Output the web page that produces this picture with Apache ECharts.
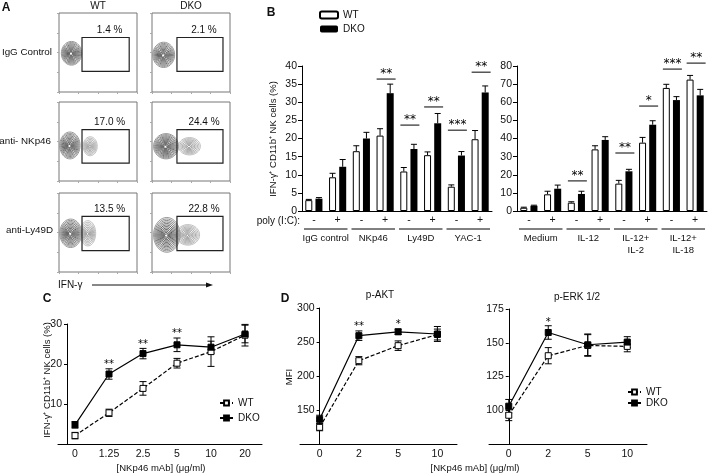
<!DOCTYPE html>
<html><head><meta charset="utf-8">
<script src="https://cdn.jsdelivr.net/npm/echarts@6/dist/echarts.min.js"></script>
<style>html,body{margin:0;padding:0;background:#fff}#c{width:709px;height:476px}</style>
</head><body><div id="c"></div>
<script>
// ---------- Panel A (flow plots) ----------
const flowCols = ['WT', 'DKO'];
const flowRows = ['IgG Control', 'anti- NKp46', 'anti-Ly49D'];
const gatePct = [['1.4 %', '2.1 %'], ['17.0 %', '24.4 %'], ['13.5 %', '22.8 %']];
// gate [x1, y1, x2, y2] in plot units (0-100)
const gates = [
  [[29.5, 26, 90, 69], [32, 26, 91, 69]],
  [[29.5, 22.5, 90, 65], [32, 22.5, 91, 65]],
  [[29.5, 27, 90, 70.5], [32, 27, 91, 70.5]]
];
// populations [cx, cy, rx, ry, rings, dark]
const pops = [
  [[[16, 49, 13, 15, 11, 1]], [[15, 47, 14, 16, 11, 1]]],
  [[[14, 45, 13, 17, 11, 1], [40, 44, 9, 12, 7, 0]], [[18, 44, 16, 16, 12, 1], [48, 44, 14, 11, 8, 0]]],
  [[[15, 49, 14, 18, 11, 1], [37, 49, 10, 16, 8, 0]], [[19, 47, 17, 22, 12, 1], [46, 47, 15, 13, 9, 0]]]
];

// ---------- Panel B ----------
const polyIC = ['-', '+', '-', '+', '-', '+', '-', '+'];
const groupsL = ['IgG control', 'NKp46', 'Ly49D', 'YAC-1'];
const groupsR = ['Medium', 'IL-12', 'IL-12+\nIL-2', 'IL-12+\nIL-18'];
const wtL = [3.0, 9.3, 16.5, 20.8, 10.9, 15.4, 6.7, 19.8];
const wtLErr = [0.2, 1.1, 1.5, 1.9, 1.1, 0.9, 0.5, 2.4];
const dkoL = [3.4, 12.2, 20.0, 32.5, 17.1, 24.2, 15.3, 32.7];
const dkoLErr = [0.3, 2.0, 1.7, 2.5, 1.3, 2.7, 1.1, 1.8];
const wtR = [1.8, 9.2, 4.6, 34.0, 15.1, 37.7, 67.9, 72.5];
const wtRErr = [0.3, 1.7, 0.5, 2.0, 1.8, 2.9, 2.0, 2.3];
const dkoR = [2.9, 12.3, 9.4, 39.2, 21.9, 47.6, 61.2, 63.8];
const dkoRErr = [0.3, 2.0, 1.5, 1.8, 1.1, 2.2, 1.9, 3.3];
const sigLPos = [[3, 36.4], [4, 23.7], [5, 28.7], [6, 22.3], [7, 38.3]];
const sigLTxt = ['**', '**', '**', '***', '**'];
const sigRPos = [[2, 16.6], [4, 32], [5, 57.9], [6, 78.3], [7, 81.6]];
const sigRTxt = ['**', '**', '*', '***', '**'];

// ---------- Panel C ----------
const doseC = ['0', '1.25', '2.5', '5', '10', '20'];
const wtC = [2.1, 7.8, 13.9, 20.2, 23.1, 27.2];
const wtCErr = [0.8, 0.9, 1.7, 1.2, 3.7, 2.7];
const dkoC = [4.8, 17.5, 22.6, 24.8, 24.2, 27.5];
const dkoCErr = [0.8, 1.3, 1.3, 1.7, 1.5, 2.2];
const sigCPos = [[1, 20.5], [2, 25.5], [3, 28.2]];
const sigCTxt = ['**', '**', '**'];

// ---------- Panel D ----------
const doseD = ['0', '2', '5', '10'];
const wtAKT = [124.5, 222.5, 244.6, 261];
const wtAKTErr = [5, 6, 7, 8];
const dkoAKT = [136.3, 259.3, 265, 261.8];
const dkoAKTErr = [6, 7, 4, 11];
const sigAKTPos = [[1, 276.5], [2, 280]];
const sigAKTTxt = ['**', '*'];
const wtERK = [96.3, 140.4, 148, 147.3];
const wtERKErr = [4, 6, 8, 4];
const dkoERK = [103, 157.6, 148.5, 150.5];
const dkoERKErr = [5, 5, 8, 4];
const sigERKPos = [[1, 167]];
const sigERKTxt = ['*'];

const FONT = 'Liberation Sans, Arial, sans-serif';
const BLACK = '#111';

const grid = [], xAxis = [], yAxis = [], series = [];

// ----- Panel A grids -----
const aLeft = [59, 152], aTop = [13, 102, 193];
function contourRender(list) {
  return function (params, api) {
    const d = list[params.dataIndex];
    const c = api.coord([d[0], d[1]]);
    const s = api.size([d[2], d[3]]);
    const ch = [];
    const n = d[4];
    for (let k = 0; k < n; k++) {
      const f = 1 - k / n;
      const pts = [];
      const sx = -0.05 * s[0] * (1 - f), sy = 0.04 * s[1] * (1 - f);
      for (let t = 0; t < 40; t++) {
        const a = t / 40 * 2 * Math.PI;
        pts.push([c[0] + sx + s[0] * f * Math.cos(a), c[1] + sy + s[1] * f * Math.sin(a)]);
      }
      let col;
      if (d[5]) { const g = Math.round(140 - 135 * (k / n)); col = 'rgb(' + g + ',' + g + ',' + g + ')'; }
      else { const g = Math.round(175 - 85 * (k / n)); col = 'rgb(' + g + ',' + g + ',' + g + ')'; }
      ch.push({ type: 'polygon', shape: { points: pts }, style: { fill: 'none', stroke: col, lineWidth: d[5] ? 0.9 : 0.8 } });
    }
    if (d[5]) ch.push({ type: 'circle', shape: { cx: c[0] - 0.05 * s[0], cy: c[1] + 0.04 * s[1], r: 1.1 }, style: { fill: '#fff' } });
    return { type: 'group', children: ch };
  };
}
function gateRender(r, cIdx) {
  return function (params, api) {
    const g = gates[r][cIdx];
    const p1 = api.coord([g[0], g[3]]);
    const p2 = api.coord([g[2], g[1]]);
    return { type: 'group', children: [
      { type: 'rect', shape: { x: p1[0], y: p1[1], width: p2[0] - p1[0], height: p2[1] - p1[1] },
        style: { fill: 'none', stroke: '#222', lineWidth: 1.2 } },
      { type: 'text', style: { text: gatePct[r][cIdx], x: (p1[0] + p2[0]) / 2 + 4, y: p1[1] - 2,
        textAlign: 'center', textVerticalAlign: 'bottom', fontSize: 10, fontFamily: FONT, fill: BLACK } }
    ] };
  };
}
for (let r = 0; r < 3; r++) {
  for (let c = 0; c < 2; c++) {
    const gi = grid.length;
    grid.push({ left: aLeft[c], top: aTop[r], width: 78, height: 79, show: true,
      borderColor: '#777', borderWidth: 1, backgroundColor: 'transparent' });
    xAxis.push({ type: 'value', gridIndex: gi, min: 0, max: 100, interval: 25,
      axisLine: { show: false }, axisLabel: { show: false }, splitLine: { show: false },
      axisTick: { show: true, length: 2, lineStyle: { color: '#aaa' } },
      minorTick: { show: true, splitNumber: 5, length: 1, lineStyle: { color: '#bbb' } } });
    yAxis.push({ type: 'value', gridIndex: gi, min: 0, max: 100, interval: 25,
      axisLine: { show: false }, axisLabel: { show: false }, splitLine: { show: false },
      axisTick: { show: true, length: 2, lineStyle: { color: '#aaa' } } });
    const list = pops[r][c];
    series.push({ type: 'custom', xAxisIndex: gi, yAxisIndex: gi, clip: false, silent: true,
      data: list.map(p => [p[0], p[1]]), renderItem: contourRender(list) });
    series.push({ type: 'custom', xAxisIndex: gi, yAxisIndex: gi, clip: false, silent: true,
      data: [[gates[r][c][0], gates[r][c][1]]], renderItem: gateRender(r, c) });
  }
}

// ----- Panel B -----
const BW = 7, BGAP = 0.45;
const bOff = (2 * BW + BGAP * BW) / 2 - BW / 2;
function barErrRender(offset) {
  return function (params, api) {
    const i = api.value(0), v = api.value(1), e = api.value(2);
    const p0 = api.coord([i, v]), p1 = api.coord([i, v + e]);
    const x = p0[0] + offset;
    return { type: 'group', children: [
      { type: 'line', shape: { x1: x, y1: p0[1], x2: x, y2: p1[1] }, style: { stroke: '#000', lineWidth: 1 } },
      { type: 'line', shape: { x1: x - 3, y1: p1[1], x2: x + 3, y2: p1[1] }, style: { stroke: '#000', lineWidth: 1 } }
    ] };
  };
}
function sigBarRender(txt) {
  return function (params, api) {
    const p = api.coord([api.value(0), api.value(1)]);
    const hw = 9.5;
    return { type: 'group', children: [
      { type: 'line', shape: { x1: p[0] - hw + 1, y1: p[1], x2: p[0] + hw + 1, y2: p[1] }, style: { stroke: '#000', lineWidth: 1 } },
      { type: 'text', style: { text: txt[params.dataIndex], x: p[0] + 1, y: p[1] - 5, textAlign: 'center',
        textVerticalAlign: 'middle', fontSize: 12, fontFamily: 'DejaVu Sans', fill: '#000' } }
    ] };
  };
}
function groupRender(names) {
  return function (params, api) {
    const a = api.coord([api.value(0), 0]);
    const band = api.size([1, 0])[0];
    const x1 = a[0] - band / 2 + 2, x2 = a[0] + band * 1.5 - 2, y = a[1] + 18;
    return { type: 'group', children: [
      { type: 'line', shape: { x1: x1, y1: y, x2: x2, y2: y }, style: { stroke: '#000', lineWidth: 1 } },
      { type: 'text', style: { text: names[params.dataIndex], x: (x1 + x2) / 2, y: y + 3, textAlign: 'center',
        textVerticalAlign: 'top', fontSize: 9.5, lineHeight: 12, fontFamily: FONT, fill: BLACK } }
    ] };
  };
}
function addBarPanel(left, ymax, yint, wt, wtE, dko, dkoE, sigPos, sigTxt, groups) {
  const gi = grid.length;
  grid.push({ left: left, top: 66, width: 190, height: 145 });
  xAxis.push({ type: 'category', gridIndex: gi, data: polyIC.map((p, i) => 'c' + i),
    axisLine: { lineStyle: { color: '#000', width: 1 } },
    axisTick: { alignWithLabel: true, length: 3, lineStyle: { color: '#000' } },
    axisLabel: { formatter: (v, i) => polyIC[i], fontSize: 10.5, color: BLACK, margin: 4, fontFamily: FONT } });
  yAxis.push({ type: 'value', gridIndex: gi, min: 0, max: ymax, interval: yint,
    axisLine: { show: true, lineStyle: { color: '#000' } },
    axisTick: { show: true, length: 4, lineStyle: { color: '#000' } },
    splitLine: { show: false },
    axisLabel: { fontSize: 10.5, color: BLACK, margin: 5, fontFamily: FONT } });
  series.push({ name: 'WT|B', type: 'bar', xAxisIndex: gi, yAxisIndex: gi, data: wt, barWidth: BW, barGap: (BGAP * 100) + '%',
    itemStyle: { color: '#fff', borderColor: '#000', borderWidth: 1 }, silent: true });
  series.push({ name: 'DKO|B', type: 'bar', xAxisIndex: gi, yAxisIndex: gi, data: dko, barWidth: BW, barGap: (BGAP * 100) + '%',
    itemStyle: { color: '#000' }, silent: true });
  series.push({ type: 'custom', xAxisIndex: gi, yAxisIndex: gi, clip: false, silent: true, z: 1,
    data: wt.map((v, i) => [i, v, wtE[i]]), renderItem: barErrRender(-bOff) });
  series.push({ type: 'custom', xAxisIndex: gi, yAxisIndex: gi, clip: false, silent: true, z: 1,
    data: dko.map((v, i) => [i, v, dkoE[i]]), renderItem: barErrRender(bOff) });
  series.push({ type: 'custom', xAxisIndex: gi, yAxisIndex: gi, clip: false, silent: true,
    data: sigPos, renderItem: sigBarRender(sigTxt) });
  series.push({ type: 'custom', xAxisIndex: gi, yAxisIndex: gi, clip: false, silent: true,
    data: groups.map((g, k) => [k * 2, 0]), renderItem: groupRender(groups) });
}
addBarPanel(302, 40, 5, wtL, wtLErr, dkoL, dkoLErr, sigLPos, sigLTxt, groupsL);
addBarPanel(517, 80, 10, wtR, wtRErr, dkoR, dkoRErr, sigRPos, sigRTxt, groupsR);

// ----- Line panels (C, D) -----
function lineErrRender(params, api) {
  const i = api.value(0), v = api.value(1), e = api.value(2);
  const p0 = api.coord([i, v - e]), p1 = api.coord([i, v + e]);
  const x = p0[0];
  return { type: 'group', children: [
    { type: 'line', shape: { x1: x, y1: p0[1], x2: x, y2: p1[1] }, style: { stroke: '#000', lineWidth: 1 } },
    { type: 'line', shape: { x1: x - 3.5, y1: p0[1], x2: x + 3.5, y2: p0[1] }, style: { stroke: '#000', lineWidth: 1 } },
    { type: 'line', shape: { x1: x - 3.5, y1: p1[1], x2: x + 3.5, y2: p1[1] }, style: { stroke: '#000', lineWidth: 1 } }
  ] };
}
function starRender(txt) {
  return function (params, api) {
    const p = api.coord([api.value(0), api.value(1)]);
    return { type: 'text', style: { text: txt[params.dataIndex], x: p[0], y: p[1] + 2.5, textAlign: 'center',
      textVerticalAlign: 'middle', fontSize: 10, fontFamily: 'DejaVu Sans', fill: '#000' } };
  };
}
function addLinePanel(opt) {
  const gi = grid.length;
  grid.push({ left: opt.left, top: opt.top, width: opt.width, height: opt.height });
  xAxis.push({ type: 'category', gridIndex: gi, data: opt.cats, boundaryGap: true,
    axisLine: { onZero: false, lineStyle: { color: '#000', width: 1 } }, axisTick: { show: false },
    axisLabel: { fontSize: 10.5, color: BLACK, margin: 5, fontFamily: FONT } });
  yAxis.push({ type: 'value', gridIndex: gi, min: opt.ymin, max: opt.ymax, interval: opt.yint, offset: opt.yOffset,
    axisLine: { show: true, onZero: false, lineStyle: { color: '#000' } },
    axisTick: { show: true, length: 3, lineStyle: { color: '#000' } }, splitLine: { show: false },
    axisLabel: { fontSize: 10.5, color: BLACK, margin: 5, fontFamily: FONT,
      formatter: v => (v === opt.ymin ? '' : String(v)) } });
  series.push({ type: 'custom', xAxisIndex: gi, yAxisIndex: gi, clip: false, silent: true, z: 1,
    data: opt.wt.map((v, i) => [i, v, opt.wtE[i]]), renderItem: lineErrRender });
  series.push({ type: 'custom', xAxisIndex: gi, yAxisIndex: gi, clip: false, silent: true, z: 1,
    data: opt.dko.map((v, i) => [i, v, opt.dkoE[i]]), renderItem: lineErrRender });
  series.push({ name: 'WT|' + opt.key, type: 'line', xAxisIndex: gi, yAxisIndex: gi, data: opt.wt, z: 3,
    symbol: 'rect', symbolSize: 6, showAllSymbol: true, silent: true,
    itemStyle: { color: '#fff', borderColor: '#000', borderWidth: 1 },
    lineStyle: { color: '#000', width: 1.2, type: [4, 2] } });
  series.push({ name: 'DKO|' + opt.key, type: 'line', xAxisIndex: gi, yAxisIndex: gi, data: opt.dko, z: 4,
    symbol: 'rect', symbolSize: 6, showAllSymbol: true, silent: true,
    itemStyle: { color: '#000', borderColor: '#000', borderWidth: 1 },
    lineStyle: { color: '#000', width: 1.2 } });
  series.push({ type: 'custom', xAxisIndex: gi, yAxisIndex: gi, clip: false, silent: true,
    data: opt.sigPos, renderItem: starRender(opt.sigTxt) });
}
addLinePanel({ key: 'C', left: 58, top: 324, width: 204, height: 120, cats: doseC, ymin: 0, ymax: 30, yint: 10,
  yOffset: -9, wt: wtC, wtE: wtCErr, dko: dkoC, dkoE: dkoCErr, sigPos: sigCPos, sigTxt: sigCTxt });
addLinePanel({ key: 'D1', left: 300, top: 308, width: 157, height: 136, cats: doseD, ymin: 100, ymax: 300, yint: 50,
  yOffset: -19.6, wt: wtAKT, wtE: wtAKTErr, dko: dkoAKT, dkoE: dkoAKTErr, sigPos: sigAKTPos, sigTxt: sigAKTTxt });
addLinePanel({ key: 'D2', left: 489, top: 309, width: 158, height: 135, cats: doseD, ymin: 75, ymax: 175, yint: 25,
  yOffset: -19.75, wt: wtERK, wtE: wtERKErr, dko: dkoERK, dkoE: dkoERKErr, sigPos: sigERKPos, sigTxt: sigERKTxt });

const legendBase = { orient: 'vertical', selectedMode: false,
  textStyle: { fontSize: 10, color: BLACK, fontFamily: FONT }, formatter: n => n.split('|')[0], padding: 0 };
const legend = [
  Object.assign({}, legendBase, { left: 319, top: 10, itemWidth: 18, itemHeight: 7, itemGap: 4, data: ['WT|B', 'DKO|B'] }),
  Object.assign({}, legendBase, { left: 219, top: 398, itemWidth: 13, itemHeight: 6, itemGap: 5, data: ['WT|C', 'DKO|C'] }),
  Object.assign({}, legendBase, { left: 627, top: 387, itemWidth: 13, itemHeight: 6, itemGap: 1, data: ['WT|D2', 'DKO|D2'] })
];

function txt(x, y, t, o) {
  return { type: 'text', x: x, y: y, silent: true, style: Object.assign({ text: t, fontSize: 10, fontFamily: FONT,
    fill: BLACK, textAlign: 'center', textVerticalAlign: 'middle' }, o || {}) };
}
function vtxt(x, y, t) {
  return { type: 'text', x: x, y: y, rotation: Math.PI / 2, silent: true,
    style: { text: t, fontSize: 9.5, fontFamily: FONT, fill: BLACK, textAlign: 'center', textVerticalAlign: 'middle' } };
}
const yNameBC = 'IFN-\u03b3\u207a CD11b\u207a NK cells (%)';
const graphic = [
  txt(6, 8, 'A', { fontWeight: 'bold', fontSize: 12 }),
  txt(98, 6, flowCols[0]), txt(191, 6, flowCols[1]),
  txt(52, 52, flowRows[0], { textAlign: 'right', fontSize: 9.8 }),
  txt(51, 141, flowRows[1], { textAlign: 'right', fontSize: 9.8 }),
  txt(53, 230, flowRows[2], { textAlign: 'right', fontSize: 9.8 }),
  txt(58, 285, 'IFN-\u03b3', { textAlign: 'left' }),
  { type: 'line', silent: true, shape: { x1: 92, y1: 285, x2: 208, y2: 285 }, style: { stroke: '#111', lineWidth: 1 } },
  { type: 'polygon', silent: true, shape: { points: [[213, 285], [206, 282.5], [206, 287.5]] }, style: { fill: '#111' } },
  txt(271, 13, 'B', { fontWeight: 'bold', fontSize: 12 }),
  txt(300, 221, 'poly (I:C):', { textAlign: 'right' }),
  vtxt(273, 139, yNameBC),
  txt(47, 299, 'C', { fontWeight: 'bold', fontSize: 12 }),
  vtxt(47, 380, yNameBC),
  txt(161, 468, '[NKp46 mAb] (\u03bcg/ml)', { fontSize: 9.5 }),
  txt(285, 299, 'D', { fontWeight: 'bold', fontSize: 12 }),
  vtxt(289, 377, 'MFI'),
  txt(380, 295, 'p-AKT'),
  txt(577, 297, 'p-ERK 1/2'),
  txt(475, 468, '[NKp46 mAb] (\u03bcg/ml)', { fontSize: 9.5 })
];

const chart = echarts.init(document.getElementById('c'), null, { renderer: 'canvas' });
chart.setOption({
  animation: false,
  backgroundColor: '#fff',
  textStyle: { fontFamily: FONT },
  grid: grid, xAxis: xAxis, yAxis: yAxis, series: series, legend: legend, graphic: graphic
});
</script></body></html>
